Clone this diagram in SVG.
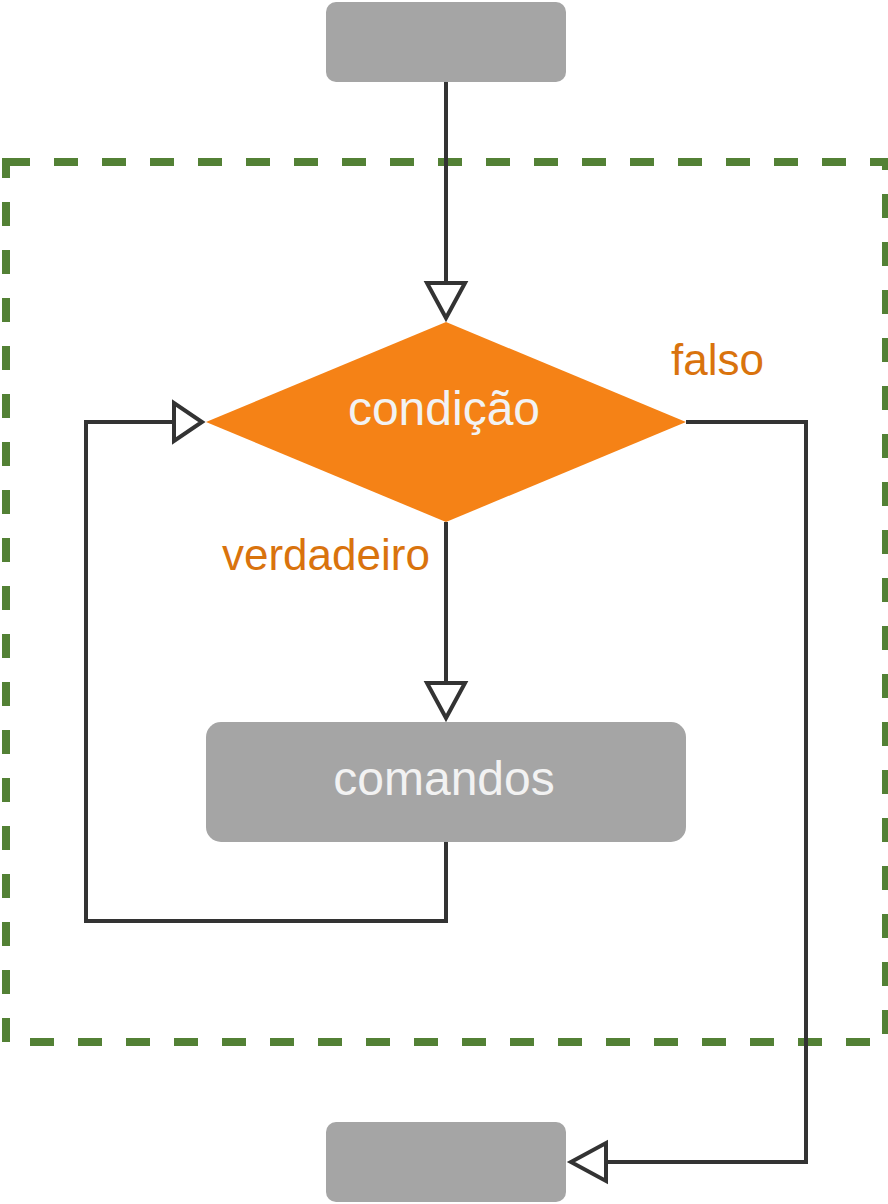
<svg xmlns="http://www.w3.org/2000/svg" width="888" height="1204" viewBox="0 0 888 1204">
<style>
.box{fill:#A5A5A5}
.node-text{font-family:"Liberation Sans",Arial,sans-serif;font-size:48px;fill:#F2F2F2;text-anchor:middle}
.label{font-family:"Liberation Sans",Arial,sans-serif;font-size:44px;fill:#D9730D}
.edge{fill:none;stroke:#333333;stroke-width:4}
.head{fill:#FFFFFF;stroke:#333333;stroke-width:4;stroke-linejoin:miter}
</style>
<rect width="888" height="1204" fill="#FFFFFF"/>
<g id="loop-frame">
<rect x="6" y="162" width="880" height="880" fill="none" stroke="#538135" stroke-width="8" stroke-dasharray="24 24"/>
</g>
<g id="connectors">
<path class="edge" d="M446 82 V283"/>
<polygon class="head" points="427,283 465,283 446,318"/>
<path class="edge" d="M446 522 V683"/>
<polygon class="head" points="427,683 465,683 446,718"/>
<path class="edge" d="M446 842 V921 H86 V422 H176"/>
<polygon class="head" points="174,403 174,441 202,422"/>
<path class="edge" d="M686 422 H806 V1162 H606"/>
<polygon class="head" points="606,1143 606,1181 571,1162"/>
</g>
<g id="start">
<rect class="box" x="326" y="2" width="240" height="80" rx="10"/>
</g>
<g id="condicao">
<polygon points="446,322 686,422 446,522 206,422" fill="#F58216"/>
<text class="node-text" x="444" y="425">condição</text>
</g>
<g id="comandos">
<rect class="box" x="206" y="722" width="480" height="120" rx="15"/>
<text class="node-text" x="444" y="795">comandos</text>
</g>
<g id="end">
<rect class="box" x="326" y="1122" width="240" height="80" rx="10"/>
</g>
<g id="labels">
<text class="label" x="222" y="570">verdadeiro</text>
<text class="label" x="671" y="375">falso</text>
</g>
</svg>
